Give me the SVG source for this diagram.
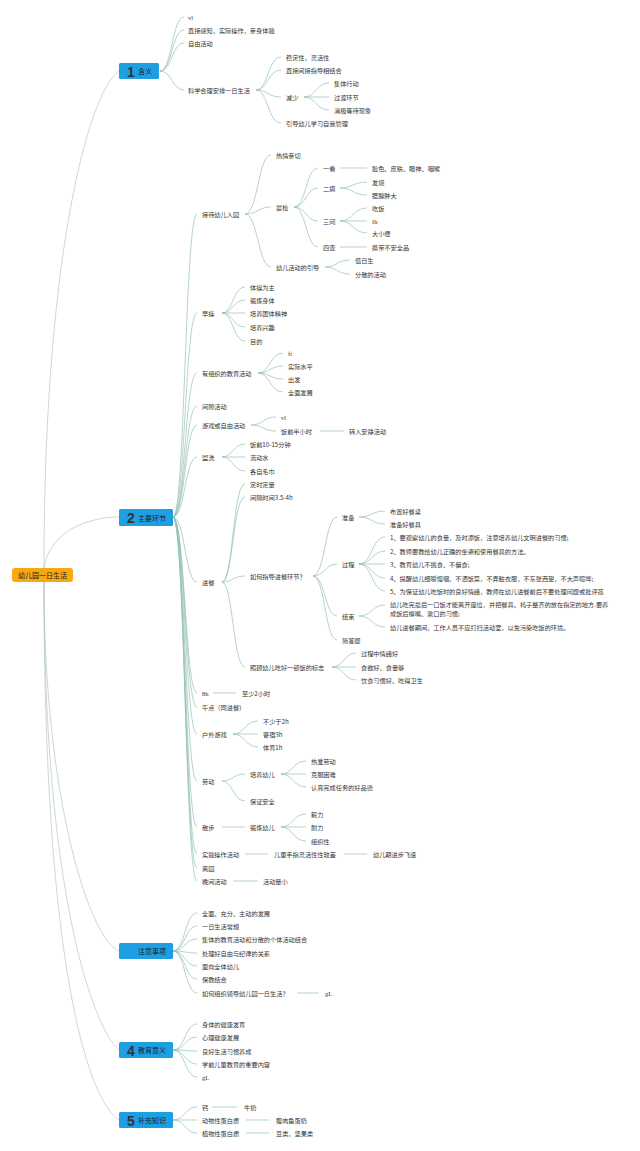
<svg xmlns="http://www.w3.org/2000/svg" width="640" height="1151" viewBox="0 0 640 1151">
<style>
text{font-family:"Noto Sans CJK SC","Noto Sans",sans-serif;font-size:6.2px;fill:#333;dominant-baseline:central}
.lat{font-family:"Liberation Serif",serif;font-size:6.5px}
.bt{font-size:7px;fill:#1a1a1a}
.num{font-family:"Liberation Sans",sans-serif;font-weight:bold;font-size:14px}
.root{font-size:7px;fill:#222;text-anchor:middle}
.box{fill:#1e9fe3}
#links path{fill:none;stroke:#95c2b5;stroke-width:0.7}
#rootlinks path{fill:none;stroke:#b4c7c2;stroke-width:0.7}
</style>
<rect width="640" height="1151" fill="#ffffff"/>
<g id="rootlinks">
<path d="M44 568 C44 250 90 90 119 71"/>
<path d="M44 568 C50 530 90 517 119 517"/>
<path d="M44 582 C44 800 90 940 119 951"/>
<path d="M44 582 C44 900 95 1030 119 1050"/>
<path d="M44 582 C44 1000 95 1105 119 1120"/>
</g>
<g id="links">
<path d="M160 71 C172 71 172 17 184 17"/>
<path d="M160 71 C172 71 172 30 184 30"/>
<path d="M160 71 C172 71 172 43 184 43"/>
<path d="M160 71 C172 71 172 90 184 90"/>
<path d="M256 90 C268 90 268 57 281 57"/>
<path d="M256 90 C268 90 268 70 281 70"/>
<path d="M256 90 C268 90 268 97 281 97"/>
<path d="M256 90 C268 90 268 123 281 123"/>
<path d="M304 97 C316 97 316 83 329 83"/>
<path d="M304 97 C316 97 316 97 329 97"/>
<path d="M304 97 C316 97 316 110 329 110"/>
<path d="M173 517 C185 517 185 214 197 214"/>
<path d="M173 517 C185 517 185 313 197 313"/>
<path d="M173 517 C185 517 185 373 197 373"/>
<path d="M173 517 C185 517 185 406 197 406"/>
<path d="M173 517 C185 517 185 425 197 425"/>
<path d="M173 517 C185 517 185 457 197 457"/>
<path d="M173 517 C185 517 185 582 197 582"/>
<path d="M173 517 C185 517 185 693 197 693"/>
<path d="M173 517 C185 517 185 707 197 707"/>
<path d="M173 517 C185 517 185 734 197 734"/>
<path d="M173 517 C185 517 185 781 197 781"/>
<path d="M173 517 C185 517 185 827 197 827"/>
<path d="M173 517 C185 517 185 854 197 854"/>
<path d="M173 517 C185 517 185 868 197 868"/>
<path d="M173 517 C185 517 185 881 197 881"/>
<path d="M245 214 C258 214 258 155 271 155"/>
<path d="M245 214 C258 214 258 207 271 207"/>
<path d="M245 214 C258 214 258 267 271 267"/>
<path d="M294 207 C306 207 306 168 318 168"/>
<path d="M294 207 C306 207 306 188 318 188"/>
<path d="M294 207 C306 207 306 221 318 221"/>
<path d="M294 207 C306 207 306 247 318 247"/>
<path d="M340 168 L367 168"/>
<path d="M340 188 C353 188 353 182 367 182"/>
<path d="M340 188 C353 188 353 195 367 195"/>
<path d="M340 221 C353 221 353 208 367 208"/>
<path d="M340 221 L367 221"/>
<path d="M340 221 C353 221 353 233 367 233"/>
<path d="M340 247 L367 247"/>
<path d="M325 267 C337 267 337 260 350 260"/>
<path d="M325 267 C337 267 337 274 350 274"/>
<path d="M222 313 C233 313 233 287 245 287"/>
<path d="M222 313 C233 313 233 300 245 300"/>
<path d="M222 313 L245 313"/>
<path d="M222 313 C233 313 233 327 245 327"/>
<path d="M222 313 C233 313 233 341 245 341"/>
<path d="M258 373 C270 373 270 353 283 353"/>
<path d="M258 373 C270 373 270 366 283 366"/>
<path d="M258 373 C270 373 270 379 283 379"/>
<path d="M258 373 C270 373 270 392 283 392"/>
<path d="M251 425 C263 425 263 417 276 417"/>
<path d="M251 425 C263 425 263 431 276 431"/>
<path d="M320 431 L344 431"/>
<path d="M222 457 C233 457 233 444 245 444"/>
<path d="M222 457 L245 457"/>
<path d="M222 457 C233 457 233 471 245 471"/>
<path d="M222 582 C233 582 233 484 245 484"/>
<path d="M222 582 C233 582 233 497 245 497"/>
<path d="M222 582 C233 582 233 576 245 576"/>
<path d="M222 582 C233 582 233 667 245 667"/>
<path d="M313 576 C325 576 325 517 337 517"/>
<path d="M313 576 C325 576 325 564 337 564"/>
<path d="M313 576 C325 576 325 616 337 616"/>
<path d="M313 576 C325 576 325 640 337 640"/>
<path d="M359 517 C372 517 372 511 385 511"/>
<path d="M359 517 C372 517 372 524 385 524"/>
<path d="M359 564 C372 564 372 537 385 537"/>
<path d="M359 564 C372 564 372 551 385 551"/>
<path d="M359 564 L385 564"/>
<path d="M359 564 C372 564 372 578 385 578"/>
<path d="M359 564 C372 564 372 591 385 591"/>
<path d="M359 616 C372 616 372 605 385 605"/>
<path d="M359 616 C372 616 372 627 385 627"/>
<path d="M332 667 C344 667 344 653 356 653"/>
<path d="M332 667 L356 667"/>
<path d="M332 667 C344 667 344 680 356 680"/>
<path d="M213 693 L236 693"/>
<path d="M233 734 C245 734 245 721 258 721"/>
<path d="M233 734 L258 734"/>
<path d="M233 734 C245 734 245 747 258 747"/>
<path d="M222 781 C233 781 233 774 245 774"/>
<path d="M222 781 C233 781 233 801 245 801"/>
<path d="M281 774 C293 774 293 761 306 761"/>
<path d="M281 774 L306 774"/>
<path d="M281 774 C293 774 293 787 306 787"/>
<path d="M222 827 L245 827"/>
<path d="M281 827 C293 827 293 814 306 814"/>
<path d="M281 827 L306 827"/>
<path d="M281 827 C293 827 293 841 306 841"/>
<path d="M245 854 L268 854"/>
<path d="M344 854 L367 854"/>
<path d="M233 881 L258 881"/>
<path d="M173 951 C185 951 185 913 197 913"/>
<path d="M173 951 C185 951 185 926 197 926"/>
<path d="M173 951 C185 951 185 939 197 939"/>
<path d="M173 951 C185 951 185 953 197 953"/>
<path d="M173 951 C185 951 185 966 197 966"/>
<path d="M173 951 C185 951 185 979 197 979"/>
<path d="M173 951 C185 951 185 993 197 993"/>
<path d="M297 993 L319 993"/>
<path d="M173 1050 C185 1050 185 1024 197 1024"/>
<path d="M173 1050 C185 1050 185 1037 197 1037"/>
<path d="M173 1050 C185 1050 185 1051 197 1051"/>
<path d="M173 1050 C185 1050 185 1064 197 1064"/>
<path d="M173 1050 C185 1050 185 1077 197 1077"/>
<path d="M173 1120 C185 1120 185 1107 197 1107"/>
<path d="M173 1120 L197 1120"/>
<path d="M173 1120 C185 1120 185 1133 197 1133"/>
<path d="M212 1107 L237 1107"/>
<path d="M246 1120 L269 1120"/>
<path d="M246 1133 L269 1133"/>
</g>
<g id="root"><rect x="12" y="568" width="61" height="14" rx="3" fill="#f8a912"/><text class="root" x="42.5" y="575">幼儿园一日生活</text></g>
<g id="b1"><rect class="box" x="119" y="63" width="40" height="16" rx="1.5"/><text class="num" x="127" y="71.5" fill="#d3264a">1</text><text class="bt" x="138" y="71">含义</text></g>
<g id="b2"><rect class="box" x="119" y="509" width="54" height="17" rx="1.5"/><text class="num" x="127" y="518" fill="#ece15c">2</text><text class="bt" x="138" y="517.5">主要环节</text></g>
<g id="b3"><rect class="box" x="119" y="943" width="54" height="16" rx="1.5"/><text class="bt" x="138" y="951">注意事项</text></g>
<g id="b4"><rect class="box" x="119" y="1042" width="54" height="16" rx="1.5"/><text class="num" x="127" y="1050.5" fill="#3cb54a">4</text><text class="bt" x="138" y="1050">教育意义</text></g>
<g id="b5"><rect class="box" x="119" y="1112" width="54" height="16" rx="1.5"/><text class="num" x="127" y="1120.5" fill="#1b3a8e">5</text><text class="bt" x="138" y="1120">补充知识</text></g>
<g id="n1_1"><text class="lat" x="188" y="17">vl</text></g>
<g id="n1_2"><text x="188" y="30">直接感知，实际操作，亲身体验</text></g>
<g id="n1_3"><text x="188" y="43">自由活动</text></g>
<g id="n1_4"><text x="188" y="90">科学合理安排一日生活</text></g>
<g id="n1_4_1"><text x="286" y="57">稳定性，灵活性</text></g>
<g id="n1_4_2"><text x="286" y="70">直接间接指导相结合</text></g>
<g id="n1_4_3"><text x="286" y="97">减少</text></g>
<g id="n1_4_3_1"><text x="334" y="83">集体行动</text></g>
<g id="n1_4_3_2"><text x="334" y="97">过渡环节</text></g>
<g id="n1_4_3_3"><text x="334" y="110">消极等待现象</text></g>
<g id="n1_4_4"><text x="286" y="123">引导幼儿学习自我管理</text></g>
<g id="n2_1"><text x="202" y="214">接待幼儿入园</text></g>
<g id="n2_1_1"><text x="276" y="155">热情亲切</text></g>
<g id="n2_1_2"><text x="276" y="207">晨检</text></g>
<g id="n2_1_2_1"><text x="323" y="168">一看</text></g>
<g id="n2_1_2_1_1"><text x="372" y="168">脸色、皮肤、眼神、咽喉</text></g>
<g id="n2_1_2_2"><text x="323" y="188">二摸</text></g>
<g id="n2_1_2_2_1"><text x="372" y="182">发烧</text></g>
<g id="n2_1_2_2_2"><text x="372" y="195">腮腺肿大</text></g>
<g id="n2_1_2_3"><text x="323" y="221">三问</text></g>
<g id="n2_1_2_3_1"><text x="372" y="208">吃饭</text></g>
<g id="n2_1_2_3_2"><text class="lat" x="372" y="221">fh</text></g>
<g id="n2_1_2_3_3"><text x="372" y="233">大小便</text></g>
<g id="n2_1_2_4"><text x="323" y="247">四查</text></g>
<g id="n2_1_2_4_1"><text x="372" y="247">携带不安全品</text></g>
<g id="n2_1_3"><text x="276" y="267">幼儿活动的引导</text></g>
<g id="n2_1_3_1"><text x="355" y="260">值日生</text></g>
<g id="n2_1_3_2"><text x="355" y="274">分散的活动</text></g>
<g id="n2_2"><text x="202" y="313">早操</text></g>
<g id="n2_2_1"><text x="250" y="287">体操为主</text></g>
<g id="n2_2_2"><text x="250" y="300">锻炼身体</text></g>
<g id="n2_2_3"><text x="250" y="313">培养团体精神</text></g>
<g id="n2_2_4"><text x="250" y="327">培养兴趣</text></g>
<g id="n2_2_5"><text x="250" y="341">目的</text></g>
<g id="n2_3"><text x="202" y="373">有组织的教育活动</text></g>
<g id="n2_3_1"><text class="lat" x="288" y="353">ft</text></g>
<g id="n2_3_2"><text x="288" y="366">实际水平</text></g>
<g id="n2_3_3"><text x="288" y="379">出发</text></g>
<g id="n2_3_4"><text x="288" y="392">全面发展</text></g>
<g id="n2_4"><text x="202" y="406">间隙活动</text></g>
<g id="n2_5"><text x="202" y="425">游戏或自由活动</text></g>
<g id="n2_5_1"><text class="lat" x="281" y="417">vl</text></g>
<g id="n2_5_2"><text x="281" y="431">饭前半小时</text></g>
<g id="n2_5_2_1"><text x="349" y="431">转入安静活动</text></g>
<g id="n2_6"><text x="202" y="457">盥洗</text></g>
<g id="n2_6_1"><text x="250" y="444">饭前10-15分钟</text></g>
<g id="n2_6_2"><text x="250" y="457">流动水</text></g>
<g id="n2_6_3"><text x="250" y="471">各自毛巾</text></g>
<g id="n2_7"><text x="202" y="582">进餐</text></g>
<g id="n2_7_1"><text x="250" y="484">定时定量</text></g>
<g id="n2_7_2"><text x="250" y="497">间隔时间3.5-4h</text></g>
<g id="n2_7_3"><text x="250" y="576">如何指导进餐环节？</text></g>
<g id="n2_7_3_1"><text x="342" y="517">准备</text></g>
<g id="n2_7_3_1_1"><text x="390" y="511">布置好餐桌</text></g>
<g id="n2_7_3_1_2"><text x="390" y="524">准备好餐具</text></g>
<g id="n2_7_3_2"><text x="342" y="564">过程</text></g>
<g id="n2_7_3_2_1"><text x="390" y="537">1、要观察幼儿的食量，及时添饭，注意培养幼儿文明进餐的习惯;</text></g>
<g id="n2_7_3_2_2"><text x="390" y="551">2、教师要教给幼儿正确的坐姿和使用餐具的方法。</text></g>
<g id="n2_7_3_2_3"><text x="390" y="564">3、教育幼儿不挑食、不偏食;</text></g>
<g id="n2_7_3_2_4"><text x="390" y="578">4、提醒幼儿细嚼慢咽，不洒饭菜，不弄脏衣服，不东张西望，不大声喧哗;</text></g>
<g id="n2_7_3_2_5"><text x="390" y="591">5、为保证幼儿吃饭时的良好情绪，教师在幼儿进餐前后不要处理问题或批评孩</text></g>
<g id="n2_7_3_3"><text x="342" y="616">结束</text></g>
<g id="n2_7_3_3_1"><text x="390" y="604.5">幼儿吃完最后一口饭才能离开座位，并把餐具、椅子整齐的放在指定的地方.要养</text><text x="390" y="613.5">成饭后擦嘴、漱口的习惯;</text></g>
<g id="n2_7_3_3_2"><text x="390" y="627">幼儿进餐期间，工作人员不应打扫活动室，以免污染吃饭的环境。</text></g>
<g id="n2_7_3_4"><text x="342" y="640">简答题</text></g>
<g id="n2_7_4"><text x="250" y="667">照顾幼儿吃好一顿饭的标志</text></g>
<g id="n2_7_4_1"><text x="361" y="653">过程中情绪好</text></g>
<g id="n2_7_4_2"><text x="361" y="667">食欲好、食量够</text></g>
<g id="n2_7_4_3"><text x="361" y="680">饮食习惯好、吃得卫生</text></g>
<g id="n2_8"><text class="lat" x="202" y="693">8h</text></g>
<g id="n2_8_1"><text x="242" y="693">至少2小时</text></g>
<g id="n2_9"><text x="202" y="707">午点（同进餐）</text></g>
<g id="n2_10"><text x="202" y="734">户外游戏</text></g>
<g id="n2_10_1"><text x="263" y="721">不少于2h</text></g>
<g id="n2_10_2"><text x="263" y="734">寄宿3h</text></g>
<g id="n2_10_3"><text x="263" y="747">体育1h</text></g>
<g id="n2_11"><text x="202" y="781">劳动</text></g>
<g id="n2_11_1"><text x="250" y="774">培养幼儿</text></g>
<g id="n2_11_1_1"><text x="311" y="761">热爱劳动</text></g>
<g id="n2_11_1_2"><text x="311" y="774">克服困难</text></g>
<g id="n2_11_1_3"><text x="311" y="787">认真完成任务的好品德</text></g>
<g id="n2_11_2"><text x="250" y="801">保证安全</text></g>
<g id="n2_12"><text x="202" y="827">散步</text></g>
<g id="n2_12_1"><text x="250" y="827">锻炼幼儿</text></g>
<g id="n2_12_1_1"><text x="311" y="814">毅力</text></g>
<g id="n2_12_1_2"><text x="311" y="827">耐力</text></g>
<g id="n2_12_1_3"><text x="311" y="841">组织性</text></g>
<g id="n2_13"><text x="202" y="854">实验操作活动</text></g>
<g id="n2_13_1"><text x="274" y="854">儿童手指灵活性性较差</text></g>
<g id="n2_13_1_1"><text x="373" y="854">幼儿期进步飞速</text></g>
<g id="n2_14"><text x="202" y="868">离园</text></g>
<g id="n2_15"><text x="202" y="881">晚间活动</text></g>
<g id="n2_15_1"><text x="263" y="881">活动量小</text></g>
<g id="n3_1"><text x="202" y="913">全面、充分、主动的发展</text></g>
<g id="n3_2"><text x="202" y="926">一日生活常规</text></g>
<g id="n3_3"><text x="202" y="939">集体的教育活动和分散的个体活动结合</text></g>
<g id="n3_4"><text x="202" y="953">处理好自由与纪律的关系</text></g>
<g id="n3_5"><text x="202" y="966">面向全体幼儿</text></g>
<g id="n3_6"><text x="202" y="979">保教结合</text></g>
<g id="n3_7"><text x="202" y="993">如何组织领导幼儿园一日生活？</text></g>
<g id="n3_7_1"><text class="lat" x="325" y="993">gL</text></g>
<g id="n4_1"><text x="202" y="1024">身体的健康发育</text></g>
<g id="n4_2"><text x="202" y="1037">心理健康发展</text></g>
<g id="n4_3"><text x="202" y="1051">良好生活习惯养成</text></g>
<g id="n4_4"><text x="202" y="1064">学前儿童教育的重要内容</text></g>
<g id="n4_5"><text class="lat" x="202" y="1077">gL</text></g>
<g id="n5_1"><text x="202" y="1107">钙</text></g>
<g id="n5_1_1"><text x="244" y="1107">牛奶</text></g>
<g id="n5_2"><text x="202" y="1120">动物性蛋白质</text></g>
<g id="n5_2_1"><text x="276" y="1120">瘦肉鱼蛋奶</text></g>
<g id="n5_3"><text x="202" y="1133">植物性蛋白质</text></g>
<g id="n5_3_1"><text x="276" y="1133">豆类，坚果类</text></g>
</svg>
